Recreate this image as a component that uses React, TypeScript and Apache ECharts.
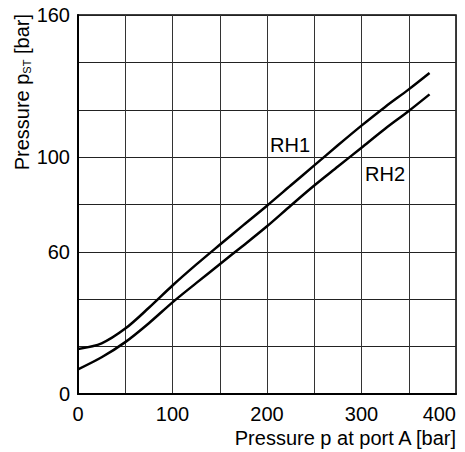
import React, { useEffect, useRef } from "react";
import * as echarts from "echarts";

const xs = [0, 25, 50, 75, 100, 125, 150, 175, 200, 225, 250, 275, 300, 325, 350, 372];
const rh1 = [19, 21.4, 27.6, 36.4, 45.8, 54.6, 63, 71.3, 79.5, 88, 96.5, 105, 113.3, 121.2, 128.6, 135.5];
const rh2 = [10.4, 15.5, 21.9, 29.9, 38.7, 46.8, 54.8, 62.7, 70.8, 79.5, 88, 96, 104, 112, 119.5, 126.5];
const yTickLabels = [0, 60, 100, 160];
const xTickLabels = [0, 100, 200, 300, 400];
const seriesNames = ["RH1", "RH2"];

const FONT = '"Liberation Sans", Arial, Helvetica, sans-serif';

export default function App() {
  const ref = useRef<HTMLDivElement>(null);
  useEffect(() => {
    if (!ref.current) return;
    const chart = echarts.init(ref.current, undefined, { renderer: "svg" });
    const pair = (ys: number[]) => xs.map((x, i) => [x, ys[i]]);
    chart.setOption({
      animation: false,
      backgroundColor: "#fff",
      grid: { left: 78, top: 15, right: 9, bottom: 58, show: true, borderColor: "#000", borderWidth: 1.5, backgroundColor: "transparent" },
      xAxis: {
        type: "value", min: 0, max: 400, interval: 50,
        axisLine: { show: true, lineStyle: { color: "#000", width: 2 } },
        axisTick: { show: false },
        splitLine: { show: true, lineStyle: { color: "#333", width: 1 } },
        axisLabel: {
          color: "#000", fontFamily: FONT, fontSize: 20, margin: 10, alignMaxLabel: "right",
          formatter: (v: number) => (xTickLabels.includes(v) ? String(v) : ""),
        },
      },
      yAxis: {
        type: "value", min: 0, max: 160, interval: 20,
        axisLine: { show: true, lineStyle: { color: "#000", width: 2 } },
        axisTick: { show: false },
        splitLine: { show: true, lineStyle: { color: "#222", width: 1 } },
        axisLabel: {
          color: "#000", fontFamily: FONT, fontSize: 20, margin: 8,
          formatter: (v: number) => (yTickLabels.includes(v) ? String(v) : ""),
        },
      },
      series: [
        { name: seriesNames[0], type: "line", data: pair(rh1), smooth: 0.3, showSymbol: false, lineStyle: { color: "#000", width: 2.5 } },
        { name: seriesNames[1], type: "line", data: pair(rh2), smooth: 0.3, showSymbol: false, lineStyle: { color: "#000", width: 2.5 } },
      ],
      graphic: [
        { type: "text", x: 290, y: 145, style: { text: seriesNames[0], fill: "#000", font: `20px ${FONT}`, textAlign: "center", textVerticalAlign: "middle" } },
        { type: "text", x: 385, y: 174, style: { text: seriesNames[1], fill: "#000", font: `20px ${FONT}`, textAlign: "center", textVerticalAlign: "middle" } },
        { type: "text", x: 456, y: 438, style: { text: "Pressure p at port A [bar]", fill: "#000", font: `20px ${FONT}`, textAlign: "right", textVerticalAlign: "middle" } },
        {
          type: "text", x: 22, y: 14, rotation: Math.PI / 2,
          style: {
            text: "{b|Pressure p}{s|ST}{b| [bar]}", fill: "#000000", fontFamily: FONT, fontSize: 20,
            textAlign: "right", textVerticalAlign: "middle",
            rich: {
              b: { fontSize: 20, fontFamily: FONT, fill: "#000000", color: "#000000" },
              s: { fontSize: 11, fontFamily: FONT, fill: "#000000", color: "#000000", verticalAlign: "bottom", padding: [8, 0, 0, 0] },
            },
          },
        },
      ],
    });
    return () => chart.dispose();
  }, []);
  return <div ref={ref} style={{ width: 465, height: 452, position: "absolute", left: 0, top: 0 }} />;
}
